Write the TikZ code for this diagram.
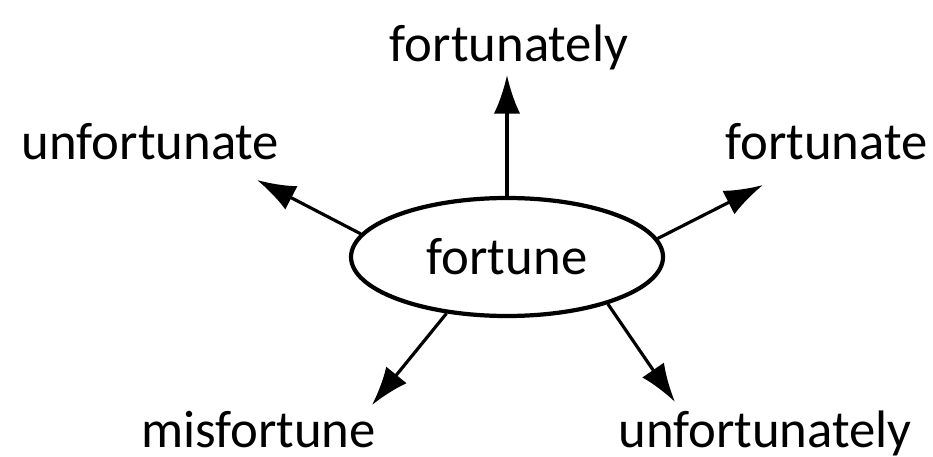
\documentclass[tikz,border=0pt]{standalone}
\usepackage{fontspec}
\setmainfont{Carlito}
\usetikzlibrary{shapes.geometric,arrows.meta}
\begin{document}
\begin{tikzpicture}[font=\fontsize{15}{18}\selectfont,
		word/.style={anchor=base,inner sep=0pt},
		arr/.style={line width=0.9pt,-{Latex[length=11pt,width=7.5pt]}}]
	\useasboundingbox (0,0) rectangle (9.33,4.56);
	\node[draw,ellipse,line width=1.2pt,minimum width=3.12cm,minimum height=1.18cm] (fortune) at (5.07,1.99) {fortune};
	\node[word] (fortunately) at (5.09,3.94) {fortunately};
	\node[word] (unfortunate) at (1.505,2.96) {unfortunate};
	\node[word] (fortunate) at (8.265,2.96) {fortunate};
	\node[word] (misfortune) at (2.585,0.09) {misfortune};
	\node[word] (unfortunately) at (7.65,0.09) {unfortunately};
	% arrow tips
	\coordinate (tipN) at (5.07,3.81);
	\coordinate (tipNW) at (2.57,2.76);
	\coordinate (tipNE) at (7.63,2.71);
	\coordinate (tipSW) at (3.72,0.51);
	\coordinate (tipSE) at (6.75,0.54);
	\draw[arr] (fortune.90)--(tipN);
	\draw[arr] (fortune.171.5)--(tipNW);
	\draw[arr] (fortune.7.4)--(tipNE);
	\draw[arr] (fortune.223)--(tipSW);
	\draw[arr] (fortune.335.6)--(tipSE);
\end{tikzpicture}
\end{document}
